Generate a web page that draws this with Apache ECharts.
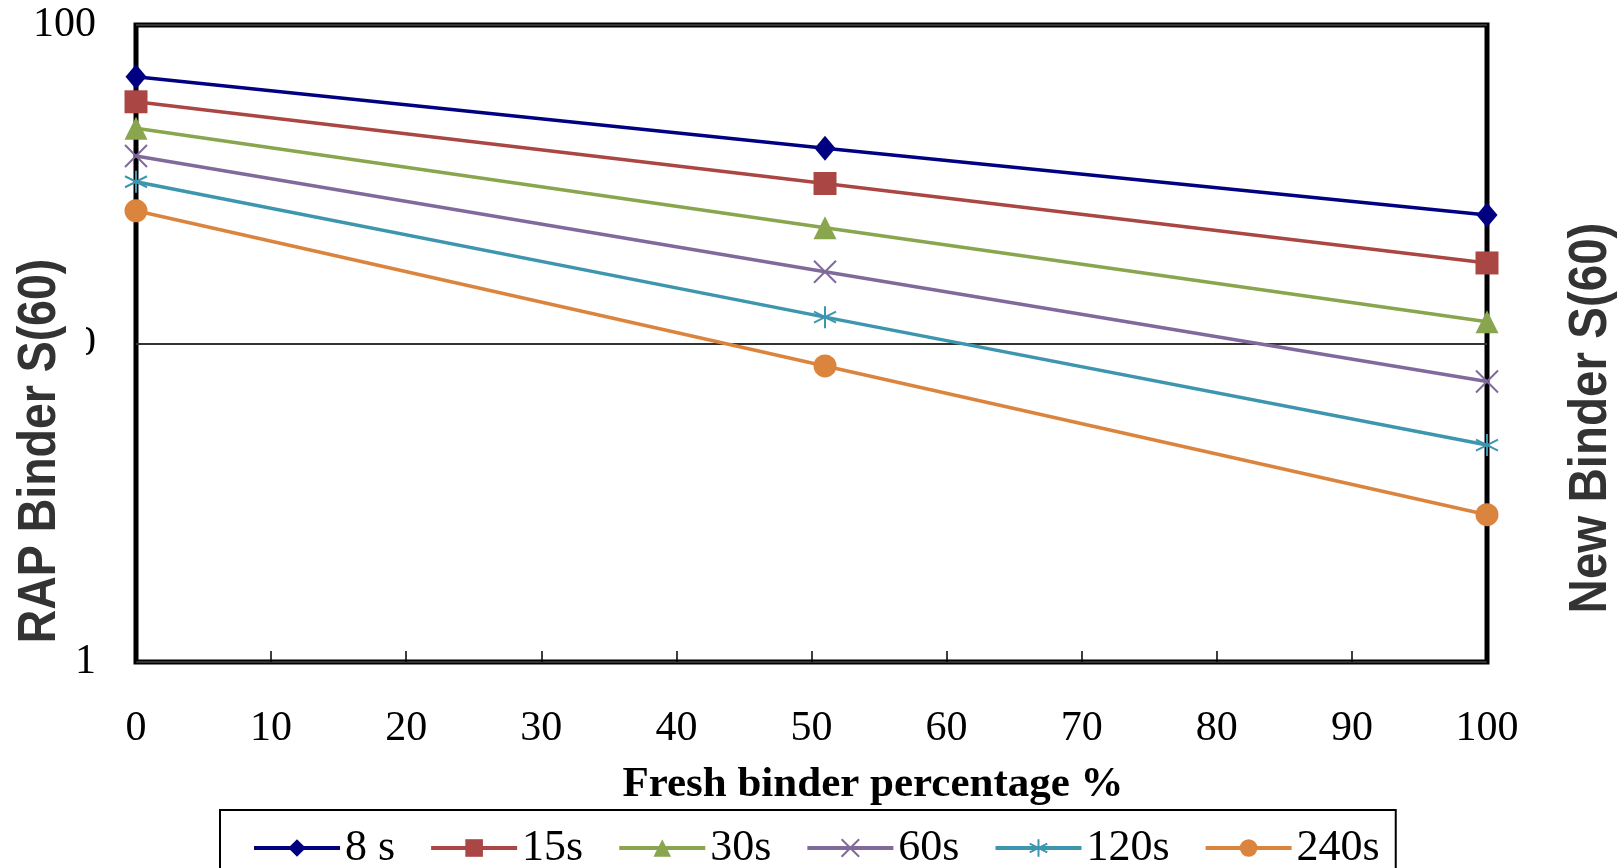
<!DOCTYPE html>
<html>
<head>
<meta charset="utf-8">
<script src="https://cdn.jsdelivr.net/npm/echarts@6/dist/echarts.min.js"></script>
<style>
  html, body { margin: 0; padding: 0; background: #fff; }
  #main { width: 1623px; height: 868px; }
</style>
</head>
<body>
<div id="main"></div>
<script>
// fresh binder percentage (x)
const freshPct = [0, 51, 100]
// S(60) values per loading time
const s8 = [68.8, 41.0, 25.3]
const s15 = [57.4, 31.8, 17.9]
const s30 = [47.4, 23.1, 11.7]
const s60 = [38.8, 16.8, 7.6]
const s120 = [32.2, 12.1, 4.8]
const s240 = [26.1, 8.5, 2.9]

const names = ['8 s', '15s', '30s', '60s', '120s', '240s']
const colors = ['#000080', '#AA4643', '#89A54E', '#80699B', '#3D96AE', '#DB843D']
const symbols = [
  'diamond',
  'rect',
  'triangle',
  'path://M0,0L10,10M10,0L0,10',
  'path://M5,0L5,10M0.7,2.5L9.3,7.5M9.3,2.5L0.7,7.5',
  'circle'
]
const allData = [s8, s15, s30, s60, s120, s240]

const serif = '"Liberation Serif", "Times New Roman", serif'

let chart = echarts.init(document.getElementById('main'))

const series = allData.map((vals, i) => {
  const isStroke = i === 3 || i === 4
  return {
    name: names[i],
    type: 'line',
    data: vals.map((v, j) => [freshPct[j], v]),
    symbol: symbols[i],
    symbolSize: isStroke ? 22 : (i === 0 ? [21, 25] : 23),
    color: colors[i],
    lineStyle: { color: colors[i], width: 3.5 },
    itemStyle: isStroke
      ? { color: 'none', borderColor: colors[i], borderWidth: 2 }
      : { color: colors[i] },
    clip: false,
    animation: false
  }
})

chart.setOption({
  backgroundColor: '#fff',
  animation: false,
  grid: {
    left: 136, right: 136, top: 25, bottom: 206,
    show: true, borderColor: '#000', borderWidth: 5
  },
  xAxis: {
    type: 'value', min: 0, max: 100, interval: 10,
    axisLine: { show: false },
    axisTick: { show: true, inside: true, length: 11, lineStyle: { color: '#000', width: 1.5 } },
    splitLine: { show: false },
    axisLabel: { fontFamily: serif, fontSize: 42, color: '#000', margin: 46 }
  },
  yAxis: {
    type: 'log', logBase: 10, min: 1, max: 100,
    axisLine: { show: false },
    axisTick: { show: false },
    splitLine: { show: true, lineStyle: { color: '#333', width: 2 } },
    axisLabel: { fontFamily: serif, fontSize: 42, color: '#000', margin: 40 }
  },
  legend: {
    data: names,
    left: 220, top: 810,
    orient: 'horizontal',
    padding: [16, 16, 30, 32],
    borderColor: '#000', borderWidth: 2,
    itemWidth: 86, itemHeight: 22, itemGap: 34,
    lineStyle: { width: 4 },
    textStyle: { fontFamily: serif, fontSize: 44, color: '#000' }
  },
  graphic: [
    // white box hiding most of the "10" label, as in the original
    { type: 'rect', left: 0, top: 318, z: 100, shape: { width: 86, height: 55 }, style: { fill: '#fff' } },
    {
      type: 'text', x: 40, y: 451, rotation: Math.PI / 2, scaleX: 0.86, z: 101,
      style: {
        text: 'RAP Binder S(60)', fontFamily: '"Liberation Sans", Arial, sans-serif',
        fontWeight: 'bold', fontSize: 54, fill: '#333', align: 'center', verticalAlign: 'middle'
      }
    },
    {
      type: 'text', x: 1591, y: 418, rotation: Math.PI / 2, scaleX: 0.88, z: 101,
      style: {
        text: 'New Binder S(60)', fontFamily: '"Liberation Sans", Arial, sans-serif',
        fontWeight: 'bold', fontSize: 54, fill: '#333', align: 'center', verticalAlign: 'middle'
      }
    },
    {
      type: 'text', x: 873, y: 785, z: 101,
      style: {
        text: 'Fresh binder percentage %', fontFamily: serif,
        fontWeight: 'bold', fontSize: 43, fill: '#000', align: 'center', verticalAlign: 'middle'
      }
    }
  ],
  series: series
})

window.onresize = function() {
  chart.resize()
}
</script>
</body>
</html>
